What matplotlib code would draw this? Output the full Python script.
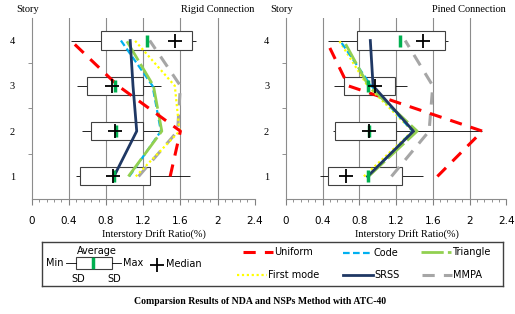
import numpy as np
import matplotlib
matplotlib.use('Agg')
import matplotlib.pyplot as plt
from matplotlib.patches import Rectangle

stories = [1, 2, 3, 4]
xticks = [0, 0.4, 0.8, 1.2, 1.6, 2, 2.4]
xtick_labels = ['0', '0.4', '0.8', '1.2', '1.6', '2', '2.4']

# box statistics, story 1..4
rigid_min = [0.48, 0.54, 0.49, 0.42]
rigid_sd_lo = [0.52, 0.64, 0.60, 0.75]
rigid_sd_hi = [1.27, 1.20, 1.20, 1.73]
rigid_max = [1.70, 1.39, 1.39, 1.77]
rigid_avg = [0.89, 0.91, 0.90, 1.24]
rigid_med = [0.875, 0.90, 0.86, 1.54]

pined_min = [0.37, 0.51, 0.52, 0.46]
pined_sd_lo = [0.46, 0.54, 0.63, 0.77]
pined_sd_hi = [1.26, 1.20, 1.19, 1.73]
pined_max = [1.49, 2.14, 1.32, 1.77]
pined_avg = [0.89, 0.91, 0.90, 1.24]
pined_med = [0.66, 0.91, 0.975, 1.49]

# NSP curves, story 1..4
rigid_uniform = [1.49, 1.60, 0.93, 0.42]
rigid_code = [1.05, 1.39, 1.30, 0.96]
rigid_triangle = [1.04, 1.40, 1.31, 1.02]
rigid_firstmode = [1.12, 1.59, 1.54, 1.11]
rigid_srss = [0.885, 1.13, 1.09, 1.06]
rigid_mmpa = [1.15, 1.57, 1.60, 1.27]

pined_uniform = [1.65, 2.14, 0.68, 0.44]
pined_code = [0.90, 1.38, 0.93, 0.59]
pined_triangle = [0.90, 1.43, 0.90, 0.63]
pined_firstmode = [0.85, 1.38, 0.89, 0.58]
pined_srss = [0.89, 1.39, 0.95, 0.92]
pined_mmpa = [1.15, 1.56, 1.60, 1.30]

styles = {
    'Uniform': dict(color='#ff0000', lw=2.2, dashes=(4, 3)),
    'Code': dict(color='#00b0f0', lw=1.6, dashes=(3, 1.5)),
    'Triangle': dict(color='#92d050', lw=2.0, dashes=(8, 1.5)),
    'First mode': dict(color='#ffff00', lw=1.6, dashes=(1, 1.2)),
    'SRSS': dict(color='#1f3864', lw=2.0),
    'MMPA': dict(color='#a6a6a6', lw=2.2, dashes=(4, 3)),
}

serif = 'Liberation Serif'
sans = 'DejaVu Sans'

fig = plt.figure(figsize=(5.15, 3.14), dpi=100)


def panel(ax, mn, lo, hi, mx, avg, med, curves, title):
    ax.hlines(stories, mn, mx, color='black', lw=0.6, zorder=1)
    ax.barh(stories, np.array(hi) - np.array(lo), left=lo, height=0.4,
            color='white', edgecolor='#404040', lw=0.8, zorder=2)
    for name, vals in curves:
        ax.plot(vals, stories, zorder=3, **styles[name])
    ax.scatter(avg, stories, marker='|', s=70, color='#00b050', linewidths=2.5, zorder=4)
    ax.scatter(med, stories, marker='+', s=90, color='black', linewidths=1.3, zorder=5)

    ax.set_xlim(0, 2.4)
    ax.set_ylim(0.5, 4.5)
    ax.set_xticks(xticks)
    ax.set_xticklabels(xtick_labels, fontsize=7.5, family=sans)
    ax.set_xticks(np.arange(0, 2.41, 0.08), minor=True)
    ax.set_yticks(stories)
    ax.set_yticklabels([str(s) for s in stories], fontsize=7.5, family=serif)
    ax.set_yticks([1.5, 2.5, 3.5], minor=True)
    ax.tick_params(axis='y', which='major', length=0, pad=12)
    ax.tick_params(axis='y', which='minor', length=3, color='#808080')
    ax.tick_params(axis='x', which='major', length=4, color='#808080', pad=8)
    ax.tick_params(axis='x', which='minor', length=2, color='#808080')
    for g in [0.4, 0.8, 1.2, 1.6, 2.0]:
        ax.axvline(g, color='#8c8c8c', lw=0.8, zorder=0)
    for s in ['top', 'right']:
        ax.spines[s].set_visible(False)
    for s in ['left', 'bottom']:
        ax.spines[s].set_color('#8c8c8c')
    ax.set_xlabel('Interstory Drift Ratio(%)', fontsize=7.5, family=serif)
    ax.xaxis.set_label_coords(0.55, -0.165)
    ax.text(-0.07, 1.02, 'Story', transform=ax.transAxes, fontsize=7.5, family=serif,
            ha='left', va='bottom')
    ax.text(1.0, 1.02, title, transform=ax.transAxes, fontsize=7.5, family=serif,
            ha='right', va='bottom')


ax1 = fig.add_axes([0.0616, 0.366, 0.433, 0.577])
panel(ax1, rigid_min, rigid_sd_lo, rigid_sd_hi, rigid_max, rigid_avg, rigid_med,
      [('MMPA', rigid_mmpa), ('First mode', rigid_firstmode), ('Code', rigid_code),
       ('Triangle', rigid_triangle), ('Uniform', rigid_uniform), ('SRSS', rigid_srss)],
      'Rigid Connection')

ax2 = fig.add_axes([0.555, 0.366, 0.428, 0.577])
panel(ax2, pined_min, pined_sd_lo, pined_sd_hi, pined_max, pined_avg, pined_med,
      [('MMPA', pined_mmpa), ('Uniform', pined_uniform), ('First mode', pined_firstmode),
       ('Code', pined_code), ('Triangle', pined_triangle), ('SRSS', pined_srss)],
      'Pined Connection')

# legend box drawn in pixel-like coordinates
lg = fig.add_axes([42 / 515, 1 - 286 / 314, 461 / 515, 44 / 314])
lg.set_xlim(42, 503)
lg.set_ylim(286, 242)
lg.set_xticks([])
lg.set_yticks([])
for s in lg.spines.values():
    s.set_color('#404040')
    s.set_linewidth(1.0)

fs = 7
lg.text(97, 251, 'Average', fontsize=fs, family=sans, ha='center', va='center')
lg.text(55, 263, 'Min', fontsize=fs, family=sans, ha='center', va='center')
lg.text(133, 263, 'Max', fontsize=fs, family=sans, ha='center', va='center')
lg.text(78, 279, 'SD', fontsize=fs, family=sans, ha='center', va='center')
lg.text(114, 279, 'SD', fontsize=fs, family=sans, ha='center', va='center')
lg.plot([66, 76], [263, 263], color='black', lw=0.6)
lg.plot([112, 121], [263, 263], color='black', lw=0.6)
lg.add_patch(Rectangle((76, 257), 36, 12, facecolor='white', edgecolor='#404040', lw=0.8))
lg.plot([93, 93], [259, 267], color='#00b050', lw=2.5)
lg.plot([157], [265], marker='+', markersize=10, color='black', mew=1.3)
lg.text(166, 264, 'Median', fontsize=fs, family=sans, ha='left', va='center')

entries = [('Uniform', 243, 252), ('Code', 343, 253), ('Triangle', 421, 252),
           ('First mode', 237, 275), ('SRSS', 343, 275), ('MMPA', 422, 275)]
for name, x0, y0 in entries:
    lg.plot([x0, x0 + 30], [y0, y0], **styles[name])
    lg.text(x0 + 31, y0, name, fontsize=fs, family=sans, ha='left', va='center')

fig.text(0.505, 1 - 301 / 314, 'Comparsion Results of NDA and NSPs Method with ATC-40',
         fontsize=7, family=serif, weight='bold', ha='center', va='center')

fig.savefig('out.png', dpi=100)
